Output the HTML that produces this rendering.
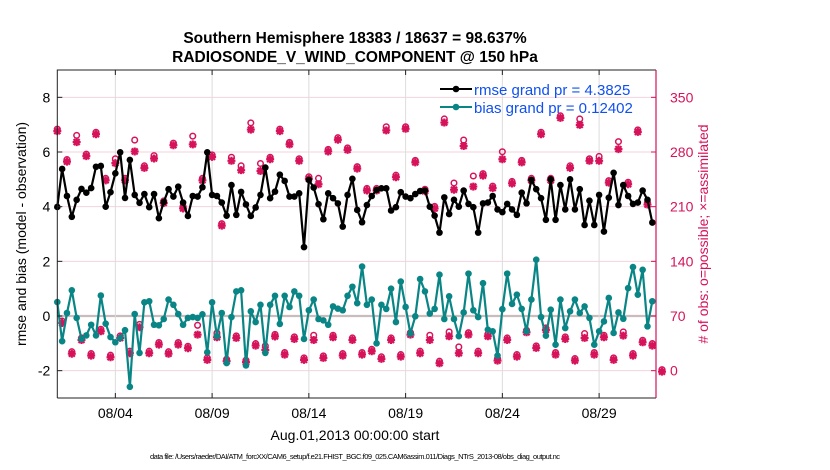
<!DOCTYPE html>
<html><head><meta charset="utf-8"><style>
html,body{margin:0;padding:0;background:#fff}
svg{display:block;font-family:"Liberation Sans",sans-serif}
</style></head><body>
<svg id="chart" width="830" height="470" viewBox="0 0 830 470" xmlns="http://www.w3.org/2000/svg">
<text x="355" y="43" text-anchor="middle" font-size="15.5" font-weight="bold">Southern Hemisphere 18383 / 18637 = 98.637%</text>
<text x="355" y="62" text-anchor="middle" font-size="15.5" font-weight="bold">RADIOSONDE_V_WIND_COMPONENT @ 150 hPa</text>
<g id="grid"></g>
<g id="marks"></g>
<g id="axes"></g>
<text transform="translate(26,234) rotate(-90)" text-anchor="middle" font-size="14">rmse and bias (model - observation)</text>
<text transform="translate(708,234) rotate(-90)" text-anchor="middle" font-size="14" fill="#d6135a"># of obs: o=possible; ×=assimilated</text>
<text x="355" y="440" text-anchor="middle" font-size="14">Aug.01,2013 00:00:00 start</text>
<text x="355" y="459" text-anchor="middle" font-size="7.5" textLength="410">data file: /Users/raeder/DAI/ATM_forcXX/CAM6_setup/f.e21.FHIST_BGC.f09_025.CAM6assim.011/Diags_NTrS_2013-08/obs_diag_output.nc</text>
<g>
<line x1="440" y1="89" x2="472" y2="89" stroke="#000" stroke-width="2"/>
<circle cx="456" cy="89" r="3.3" fill="#000"/>
<text x="474" y="95" font-size="15" fill="#1050f0">rmse grand pr = 4.3825</text>
<line x1="440" y1="107" x2="472" y2="107" stroke="#0a8585" stroke-width="2"/>
<circle cx="456" cy="107" r="3.3" fill="#0a8585"/>
<text x="474" y="113" font-size="15" fill="#1050f0">bias grand pr = 0.12402</text>
</g>
</svg>
<script>
const rmse=[3.99,5.38,4.39,3.63,4.25,4.65,4.51,4.68,5.46,5.49,4.0,4.53,5.22,5.99,4.32,5.71,4.43,4.14,4.46,3.98,4.46,3.58,4.17,4.64,4.37,4.73,4.15,3.66,4.39,4.37,4.71,
5.99,4.43,4.39,4.15,3.67,4.79,3.70,4.54,4.08,3.66,3.97,4.43,5.43,4.31,4.55,5.17,4.94,4.37,4.37,4.49,2.52,4.98,4.70,4.09,3.54,4.49,4.31,4.12,3.27,4.43,5.02,
3.88,3.43,4.06,4.39,4.61,4.67,4.67,3.86,3.98,4.53,4.37,4.31,4.46,4.57,4.59,4.0,3.67,3.05,4.34,3.73,4.25,4.0,4.59,4.10,3.98,3.05,4.12,4.15,4.39,3.9,3.8,
4.1,3.9,3.7,4.51,4.12,4.98,4.64,4.31,3.52,5.0,3.52,4.79,3.9,5.0,3.9,4.64,3.33,4.22,3.33,4.43,3.09,4.33,5.24,4.06,4.79,4.39,4.1,4.15,4.59,4.25,3.42];
const bias=[0.51,-0.92,0.11,0.94,-0.07,-0.84,-0.71,-0.32,-0.71,0.75,-0.28,-0.77,-0.96,-0.8,-0.52,-2.59,0.07,-1.35,0.50,0.54,-0.32,-0.34,-0.11,0.6,0.41,0.07,-0.32,-0.07,-0.04,-0.07,0.06,
-1.33,0.5,-0.74,0.11,-1.72,-0.04,0.9,0.94,-1.81,0.17,-0.22,0.41,-1.35,0.41,0.74,-0.29,0.74,0.33,0.9,0.74,-0.84,0.21,0.6,-0.11,-0.16,-0.32,0.35,0.27,0.21,0.74,1.07,
0.47,1.81,0.41,0.6,-1.0,0.41,0.26,1.0,-0.22,1.26,0.33,-0.64,-0.01,1.35,0.9,0.09,0.26,1.51,-0.11,0.72,-0.11,-0.74,0.13,1.55,0.21,-0.04,1.2,-0.5,-0.56,-1.45,0.25,
1.55,0.44,0.78,0.26,-0.56,0.6,2.06,-0.04,-0.72,0.23,-1.05,0.6,-0.44,0.17,0.6,0.11,0.35,-0.07,-1.05,-0.56,-0.2,0.66,-0.62,0.13,-0.1,1.02,1.79,0.78,1.69,-0.38,0.54];
// obs counts at even (A) and odd (B) 6-hourly bins
const obsUsedA=[308,269,294,276,304,245,267,245,282,261,273,216,290,209,291,245,
275,187,270,258,310,257,272,308,291,270,247,240,282,297,284,
260,232,232,309,249,311,268,231,209,319,233,289,237,251,235,272,
241,268,245,304,245,325,261,316,270,270,242,285,240,307,214];
const obsPossA=[308,269,300,276,304,245,270,245,294,261,274,216,290,209,299,245,
275,187,272,261,316,264,272,308,291,270,247,245,282,297,284,
260,232,232,311,249,311,268,231,209,321,239,294,248,251,235,279,
241,268,245,304,245,325,261,321,270,273,242,292,240,307,214];
const obsUsedB=[62.3,23,40.6,20.6,51.7,18.5,43.2,23.6,56.8,23.6,34.7,23,34.7,30,47.4,
15.1,44,13.4,43.2,12.1,33.4,27.8,45.1,21.9,41.9,15.1,40.6,17.6,44,20.6,40.6,
21.9,26.1,16.4,40.6,19.3,47.4,23.6,40.6,10.8,45.3,23.6,47.4,23.6,45.3,14.2,
40.6,19.3,50.4,30.4,53.4,21.9,41.9,14.2,43.2,21.9,44,15.1,46.2,20.6,37.6,33.4,0];
const obsPossB=[62.3,23,40.6,20.6,51.7,18.5,43.2,23.6,58,23.6,34.7,23,34.7,30,56.8,
15.1,47,13.4,43.2,12.1,33.4,30.4,45.1,21.9,41.9,15.1,44,17.6,44,20.6,40.6,
21.9,26.1,16.4,40.6,19.3,47.4,23.6,44,10.8,48.3,29.1,47.4,23.6,45.3,14.2,
40.6,19.3,50.4,30.4,53.4,21.9,41.9,14.2,46.2,21.9,44,15.1,48.3,20.6,37.6,33.4,0];
const xTickDays=[3,8,13,18,23,28];
const xTickLabels=['08/04','08/09','08/14','08/19','08/24','08/29'];
const yTicks=[-2,0,2,4,6,8];
const y2Ticks=[0,70,140,210,280,350];

const NS='http://www.w3.org/2000/svg';
const X0=57.3,X1=656,Y0=70,Y1=398,DMAX=30.94,YMIN=-3,YMAX=9,Y2MIN=-35,Y2MAX=385;
const STEP=0.25;
function xs(d){return X0+(X1-X0)*d/DMAX;}
function ys(v){return Y1-(Y1-Y0)*(v-YMIN)/(YMAX-YMIN);}
function ys2(v){return Y1-(Y1-Y0)*(v-Y2MIN)/(Y2MAX-Y2MIN);}
function mk(tag,attrs,parent){const e=document.createElementNS(NS,tag);for(const k in attrs)e.setAttribute(k,attrs[k]);parent.appendChild(e);return e;}
const grid=document.getElementById('grid'),marks=document.getElementById('marks'),axes=document.getElementById('axes');

yTicks.forEach(v=>{const g=mk('line',{x1:X0,x2:X1,y1:ys(v),y2:ys(v),stroke:v===0?'#c9bcbc':'#f3d3de','stroke-width':v===0?2.2:1},grid);

});
xTickDays.forEach(d=>{const g=mk('line',{x1:xs(d),x2:xs(d),y1:Y0,y2:Y1,stroke:'#dcdcdc','stroke-width':1},grid);

});

function series(vals,color,name){
  const pts=vals.map((v,i)=>xs(i*STEP).toFixed(1)+','+ys(v).toFixed(1)).join(' ');
  const pl=mk('polyline',{points:pts,fill:'none',stroke:color,'stroke-width':2.2,'stroke-linejoin':'round'},marks);
  
  
  vals.forEach((v,i)=>{const c=mk('circle',{cx:xs(i*STEP),cy:ys(v),r:3.3,fill:color},marks);
    
    });
}
function obs(used,poss,offset,name){
  const col='#d6135a';
  used.forEach((v,k)=>{
    const x=xs((2*k+offset)*STEP);
    const yp=ys2(poss[k]);
    const c=mk('circle',{cx:x,cy:yp-1,r:2.8,fill:'none',stroke:col,'stroke-width':1.5},marks);
    
    
    const y=ys2(v)+1;
    const p=mk('path',{d:`M${x-4},${y}H${x+4}M${x},${y-4}V${y+4}M${x-3},${y-3}L${x+3},${y+3}M${x-3},${y+3}L${x+3},${y-3}`,stroke:col,'stroke-width':2.2},marks);
    
    
    const b=mk('circle',{cx:x,cy:y,r:2.6,fill:col},marks);
    
    
  });
}
obs(obsUsedA,obsPossA,0,'obs-count-a');
obs(obsUsedB,obsPossB,1,'obs-count-b');
series(rmse,'#000','rmse');
series(bias,'#0a8585','bias');

let e;
e=mk('path',{d:`M${X0},${Y1}V${Y0}H${X1}M${X0},${Y1}H${X1}`,fill:'none',stroke:'#222','stroke-width':1},axes);


e=mk('line',{x1:X1,x2:X1,y1:Y0,y2:Y1,stroke:'#d6135a','stroke-width':1.2},axes);


yTicks.forEach(v=>{
  mk('line',{x1:X0,x2:X0+5,y1:ys(v),y2:ys(v),stroke:'#222'},axes);
  const t=mk('text',{x:X0-7,y:ys(v)+5,'text-anchor':'end','font-size':14},axes);t.textContent=v;
  
  
});
y2Ticks.forEach(v=>{
  mk('line',{x1:X1-5,x2:X1,y1:ys2(v),y2:ys2(v),stroke:'#d6135a'},axes);
  const t=mk('text',{x:X1+14,y:ys2(v)+5,'font-size':14,fill:'#d6135a'},axes);t.textContent=v;
  
  
});
xTickDays.forEach((d,i)=>{
  mk('line',{x1:xs(d),x2:xs(d),y1:Y1,y2:Y1-5,stroke:'#222'},axes);
  mk('line',{x1:xs(d),x2:xs(d),y1:Y0,y2:Y0+5,stroke:'#222'},axes);
  const t=mk('text',{x:xs(d),y:Y1+20,'text-anchor':'middle','font-size':14},axes);t.textContent=xTickLabels[i];
  
  
});
</script>
</body></html>
